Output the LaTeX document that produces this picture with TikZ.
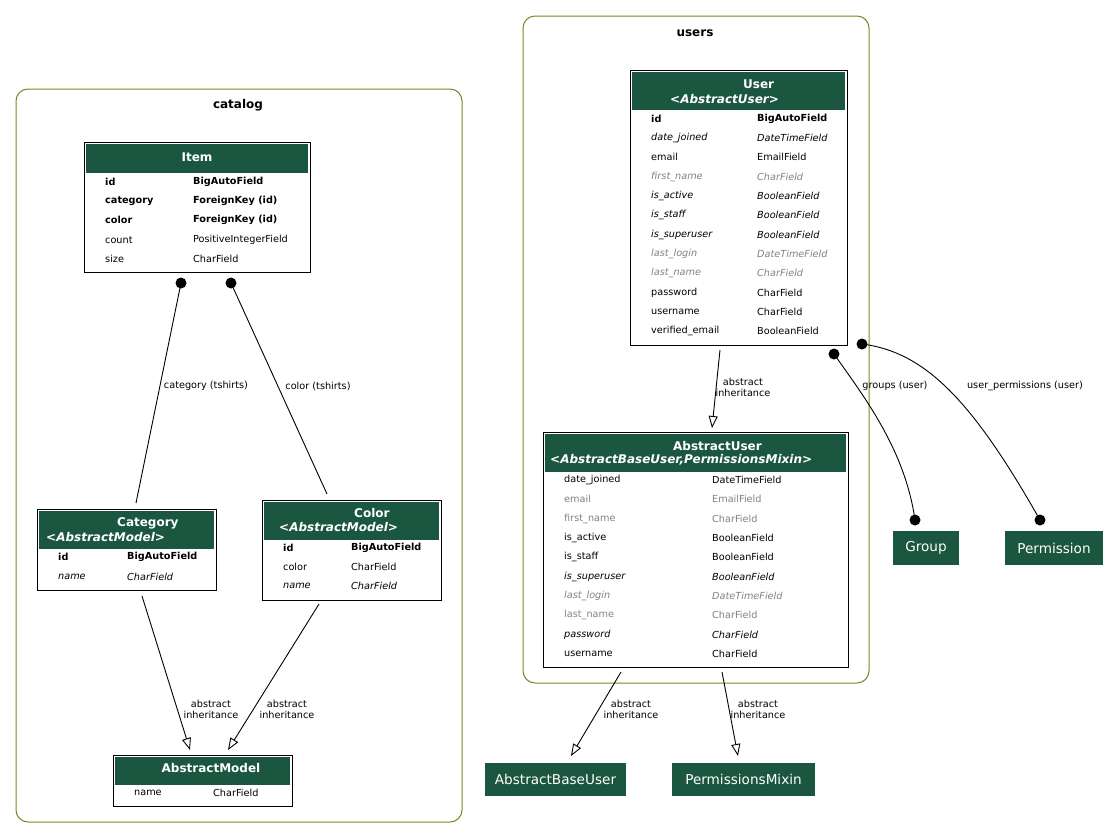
\documentclass[tikz,border=0pt]{standalone}
\usepackage{fontspec}
\setmainfont{DejaVu Sans}
\usetikzlibrary{arrows.meta}
\definecolor{hdr}{RGB}{27,87,64}
\definecolor{clus}{RGB}{107,142,35}
\definecolor{dim}{RGB}{130,130,130}
\begin{document}
\begin{tikzpicture}[x=1pt,y=-1pt,
  cluster/.style={draw=clus, line width=1pt, rounded corners=12pt},
  clusterlabel/.style={font=\fontsize{12}{14}\selectfont\bfseries, inner sep=0pt},
  tbl/.style={draw=black, line width=1pt, fill=white, anchor=north west, inner sep=0pt},
  hdrbox/.style={fill=hdr, anchor=north west, inner sep=0pt},
  htitle/.style={text=white, font=\fontsize{12}{14}\selectfont\bfseries, inner sep=0pt},
  hsub/.style={htitle, anchor=west, font=\fontsize{12}{14}\selectfont\bfseries\itshape},
  cell/.style={anchor=west, inner sep=0pt, font=\fontsize{9.7}{11}\selectfont},
  bcell/.style={cell, font=\fontsize{9.7}{11}\selectfont\bfseries},
  icell/.style={cell, font=\fontsize{9.7}{11}\selectfont\itshape},
  gcell/.style={cell, text=dim},
  gicell/.style={icell, text=dim},
  extbox/.style={fill=hdr, inner sep=0pt, anchor=north west},
  exttext/.style={text=white, font=\fontsize{13.6}{15}\selectfont, inner sep=0pt},
  edge/.style={line width=0.9pt},
  inherit/.style={edge, -{Triangle[open,length=12pt,width=9pt]}},
  elabel/.style={font=\fontsize{9.7}{11}\selectfont, align=center, inner sep=0pt},
  fkdot/.style={fill=black}
]
\useasboundingbox (0,0) rectangle (1120,839);

% ---------- clusters ----------
\draw[cluster] (16,89) rectangle (462,822);
\node[clusterlabel] (catlbl) at (238,105) {catalog};
\draw[cluster] (523,16) rectangle (869,683);
\node[clusterlabel] (userslbl) at (695,33) {users};

% ---------- Item ----------
\node[tbl, minimum width=226, minimum height=130] (item) at (84,142) {};
\node[hdrbox, minimum width=222, minimum height=29] (itemh) at (86,144) {};
\node[htitle] (itemt) at (197,157) {Item};
\node[bcell] (i1a) at (105,182) {id};       \node[bcell] (i1b) at (193,182) {BigAutoField};
\node[bcell] (i2a) at (105,201) {category}; \node[bcell] (i2b) at (193,201) {ForeignKey (id)};
\node[bcell] (i3a) at (105,220) {color};    \node[bcell] (i3b) at (193,220) {ForeignKey (id)};
\node[cell]  (i4a) at (105,240) {count};    \node[cell]  (i4b) at (193,240) {PositiveIntegerField};
\node[cell]  (i5a) at (105,259) {size};     \node[cell]  (i5b) at (193,259) {CharField};

% ---------- Category ----------
\node[tbl, minimum width=179, minimum height=81] (cat) at (37,509) {};
\node[hdrbox, minimum width=175, minimum height=38] (cath) at (39,511) {};
\node[htitle, anchor=west] (catt) at (117,523) {Category};
\node[hsub] (cats) at (46,537) {<AbstractModel>};
\node[bcell] (c1a) at (58,557) {id};   \node[bcell] (c1b) at (127,557) {BigAutoField};
\node[icell] (c2a) at (58,577) {name}; \node[icell] (c2b) at (127,577) {CharField};

% ---------- Color ----------
\node[tbl, minimum width=179, minimum height=100] (col) at (262,500) {};
\node[hdrbox, minimum width=175, minimum height=38] (colh) at (264,502) {};
\node[htitle, anchor=west] (colt) at (354,513) {Color};
\node[hsub] (cols) at (279,527) {<AbstractModel>};
\node[bcell] (o1a) at (283,548) {id};    \node[bcell] (o1b) at (351,548) {BigAutoField};
\node[cell]  (o2a) at (283,567) {color}; \node[cell]  (o2b) at (351,567) {CharField};
\node[icell] (o3a) at (283,586) {name};  \node[icell] (o3b) at (351,586) {CharField};

% ---------- AbstractModel ----------
\node[tbl, minimum width=179, minimum height=51] (am) at (113,755) {};
\node[hdrbox, minimum width=175, minimum height=28] (amh) at (115,757) {};
\node[htitle] (amt) at (211,768) {AbstractModel};
\node[cell] (m1a) at (134,793) {name}; \node[cell] (m1b) at (213,793) {CharField};

% ---------- User ----------
\node[tbl, minimum width=217, minimum height=275] (user) at (630,70) {};
\node[hdrbox, minimum width=213, minimum height=38] (userh) at (632,72) {};
\node[htitle, anchor=west] (usert) at (743,84) {User};
\node[hsub] (users) at (670,99) {<AbstractUser>};
\node[bcell]  (u1a)  at (651,119) {id};             \node[bcell]  (u1b)  at (757,119) {BigAutoField};
\node[icell]  (u2a)  at (651,138) {date\_joined};   \node[icell]  (u2b)  at (757,138) {DateTimeField};
\node[cell]   (u3a)  at (651,157) {email};          \node[cell]   (u3b)  at (757,157) {EmailField};
\node[gicell] (u4a)  at (651,177) {first\_name};    \node[gicell] (u4b)  at (757,177) {CharField};
\node[icell]  (u5a)  at (651,196) {is\_active};     \node[icell]  (u5b)  at (757,196) {BooleanField};
\node[icell]  (u6a)  at (651,215) {is\_staff};      \node[icell]  (u6b)  at (757,215) {BooleanField};
\node[icell]  (u7a)  at (651,235) {is\_superuser};  \node[icell]  (u7b)  at (757,235) {BooleanField};
\node[gicell] (u8a)  at (651,254) {last\_login};    \node[gicell] (u8b)  at (757,254) {DateTimeField};
\node[gicell] (u9a)  at (651,273) {last\_name};     \node[gicell] (u9b)  at (757,273) {CharField};
\node[cell]   (u10a) at (651,293) {password};       \node[cell]   (u10b) at (757,293) {CharField};
\node[cell]   (u11a) at (651,312) {username};       \node[cell]   (u11b) at (757,312) {CharField};
\node[cell]   (u12a) at (651,331) {verified\_email};\node[cell]   (u12b) at (757,331) {BooleanField};

% ---------- AbstractUser ----------
\node[tbl, minimum width=305, minimum height=235] (au) at (543,432) {};
\node[hdrbox, minimum width=301, minimum height=38] (auh) at (545,434) {};
\node[htitle, anchor=west] (aut) at (673,446) {AbstractUser};
\node[hsub] (aus) at (550,460) {<AbstractBaseUser,PermissionsMixin>};
\node[cell]   (a1a)  at (564,480) {date\_joined};  \node[cell]   (a1b)  at (712,480) {DateTimeField};
\node[gcell]  (a2a)  at (564,499) {email};         \node[gcell]  (a2b)  at (712,499) {EmailField};
\node[gcell]  (a3a)  at (564,519) {first\_name};   \node[gcell]  (a3b)  at (712,519) {CharField};
\node[cell]   (a4a)  at (564,538) {is\_active};    \node[cell]   (a4b)  at (712,538) {BooleanField};
\node[cell]   (a5a)  at (564,557) {is\_staff};     \node[cell]   (a5b)  at (712,557) {BooleanField};
\node[icell]  (a6a)  at (564,577) {is\_superuser}; \node[icell]  (a6b)  at (712,577) {BooleanField};
\node[gicell] (a7a)  at (564,596) {last\_login};   \node[gicell] (a7b)  at (712,596) {DateTimeField};
\node[gcell]  (a8a)  at (564,615) {last\_name};    \node[gcell]  (a8b)  at (712,615) {CharField};
\node[icell]  (a9a)  at (564,635) {password};      \node[icell]  (a9b)  at (712,635) {CharField};
\node[cell]   (a10a) at (564,654) {username};      \node[cell]   (a10b) at (712,654) {CharField};

% ---------- external models ----------
\node[extbox, minimum width=66, minimum height=34] (grp) at (893,531) {};
\node[exttext] (grpt) at (926,548) {Group};
\node[extbox, minimum width=98, minimum height=34] (perm) at (1005,531) {};
\node[exttext] (permt) at (1054,548) {Permission};
\node[extbox, minimum width=141, minimum height=33] (abu) at (485,763) {};
\node[exttext] (abut) at (555.5,779.5) {AbstractBaseUser};
\node[extbox, minimum width=143, minimum height=33] (pmx) at (672,763) {};
\node[exttext] (pmxt) at (743.5,779.5) {PermissionsMixin};

% ---------- connector end points ----------
\coordinate (itemCatDot) at (181,283);
\coordinate (catTop)     at (136,503);
\coordinate (itemColDot) at (231,283);
\coordinate (colTop)     at (327,494);
\coordinate (catBot)     at (142,596);
\coordinate (amTipA)     at (190,750);
\coordinate (colBot)     at (319,604);
\coordinate (amTipB)     at (228,750);
\coordinate (userBot)    at (720,350);
\coordinate (auTop)      at (712,428);
\coordinate (userGrpDot) at (834,354);
\coordinate (grpDot)     at (915,520);
\coordinate (userPrmDot) at (862,344);
\coordinate (prmDot)     at (1040,520);
\coordinate (auBotA)     at (621,672);
\coordinate (abuTip)     at (571,756);
\coordinate (auBotB)     at (722,672);
\coordinate (pmxTip)     at (738,756);

% ---------- foreign keys ----------
\draw[edge] (itemCatDot) -- (catTop);
\fill[fkdot] (itemCatDot) circle (5.5);
\node[elabel] (lcat) at (206,386) {category (tshirts)};
\draw[edge] (itemColDot) -- (colTop);
\fill[fkdot] (itemColDot) circle (5.5);
\node[elabel] (lcol) at (318,386) {color (tshirts)};

% ---------- many-to-many ----------
\draw[edge] (userGrpDot) .. controls (865,398) and (905,450) .. (grpDot);
\fill[fkdot] (userGrpDot) circle (5.5);
\fill[fkdot] (grpDot) circle (5.5);
\node[elabel] (lgrp) at (895,386) {groups (user)};
\draw[edge] (userPrmDot) .. controls (925,352) and (972,400) .. (prmDot);
\fill[fkdot] (userPrmDot) circle (5.5);
\fill[fkdot] (prmDot) circle (5.5);
\node[elabel] (lprm) at (1025,386) {user\_permissions (user)};

% ---------- inheritance ----------
\draw[inherit] (catBot) -- (amTipA);
\node[elabel] (linhA) at (211,709) {abstract\\inheritance};
\draw[inherit] (colBot) -- (amTipB);
\node[elabel] (linhB) at (287,709) {abstract\\inheritance};
\draw[inherit] (userBot) -- (auTop);
\node[elabel] (linhC) at (743,387) {abstract\\inheritance};
\draw[inherit] (auBotA) -- (abuTip);
\node[elabel] (linhD) at (631,709) {abstract\\inheritance};
\draw[inherit] (auBotB) -- (pmxTip);
\node[elabel] (linhE) at (758,709) {abstract\\inheritance};
\end{tikzpicture}
\end{document}
